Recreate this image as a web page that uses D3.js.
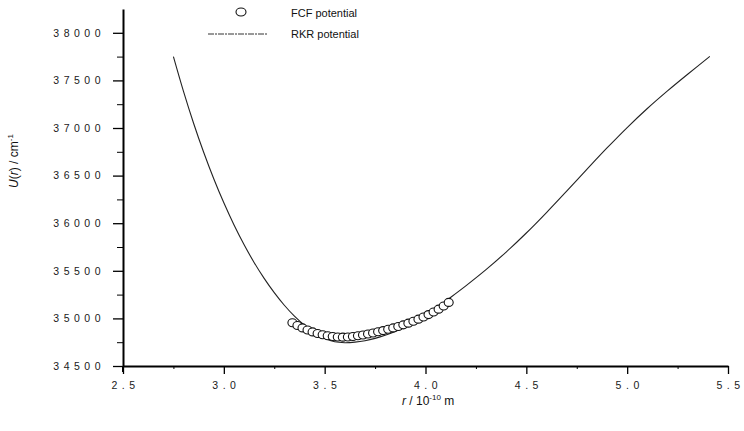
<!DOCTYPE html>
<html lang="en">
<head>
  <meta charset="UTF-8">
  <title>FCF vs RKR potential</title>
  <script src="https://d3js.org/d3.v7.min.js"></script>
  <style>
    body {
      margin: 0;
      background: #fff;
      font-family: "Liberation Sans", Arial, sans-serif;
    }
    .tick text {
      font-family: "Liberation Sans", Arial, sans-serif;
      font-size: 10.5px;
      fill: #1a1a1a;
      letter-spacing: 4.5px;
    }
    .axis-label {
      font-size: 12px;
      fill: #111;
    }
    .legend-text {
      font-size: 11px;
      fill: #111;
    }
  </style>
</head>
<body>
<div id="chart"></div>

<script>
  // RKR potential curve (r in 1e-10 m, U in cm^-1)
  const rkrR = [2.75, 2.80, 2.85, 2.90, 2.95, 3.00, 3.05, 3.10, 3.15, 3.20,
                3.25, 3.30, 3.35, 3.40, 3.45, 3.50, 3.55, 3.60, 3.65, 3.70,
                3.75, 3.80, 3.85, 3.90, 3.95, 4.00, 4.05, 4.10, 4.20, 4.30,
                4.40, 4.50, 4.60, 4.70, 4.80, 4.90, 5.00, 5.10, 5.20, 5.30, 5.41];
  const rkrU = [37750, 37385, 37050, 36745, 36467, 36214, 35984, 35776, 35588, 35420,
                35270, 35138, 35024, 34928, 34850, 34792, 34754, 34745, 34751, 34766,
                34790, 34822, 34862, 34910, 34966, 35030, 35102, 35182, 35342, 35512,
                35697, 35897, 36112, 36337, 36565, 36790, 37005, 37205, 37390, 37565, 37752];

  // FCF potential points
  const fcfR = [3.34, 3.365, 3.39, 3.415, 3.44, 3.465, 3.49, 3.515, 3.54, 3.565,
                3.59, 3.615, 3.64, 3.665, 3.69, 3.715, 3.74, 3.765, 3.79, 3.815,
                3.84, 3.865, 3.89, 3.915, 3.94, 3.965, 3.99, 4.015, 4.04, 4.065,
                4.09, 4.115];
  const fcfU = [34955, 34925, 34900, 34878, 34858, 34842, 34829, 34818, 34810, 34805,
                34803, 34805, 34810, 34817, 34826, 34836, 34847, 34859, 34872, 34886,
                34900, 34915, 34932, 34950, 34970, 34992, 35015, 35040, 35067, 35097,
                35130, 35168];

  const xTicks = [2.5, 3.0, 3.5, 4.0, 4.5, 5.0, 5.5];
  const xTickLabels = ["2.5", "3.0", "3.5", "4.0", "4.5", "5.0", "5.5"];
  const xMinor = [2.75, 3.25, 3.75, 4.25, 4.75, 5.25];
  const yTicks = [34500, 35000, 35500, 36000, 36500, 37000, 37500, 38000];
  const yMinor = [34750, 35250, 35750, 36250, 36750, 37250, 37750];

  const W = 744, H = 431;
  const plotLeft = 123, plotRight = 728, plotTop = 9, plotBottom = 366;

  const svg = d3.select("#chart")
                .append("svg")
                .attr("width", W)
                .attr("height", H);

  const x = d3.scaleLinear().domain([2.5, 5.5]).range([plotLeft, plotRight]);
  const y = d3.scaleLinear().domain([34500, 38250]).range([plotBottom, plotTop]);

  // minor ticks first
  svg.append("g")
     .attr("transform", `translate(0,${plotBottom})`)
     .call(d3.axisBottom(x).tickValues(xMinor).tickSize(3).tickFormat(""))
     .call(g => g.select(".domain").remove());
  svg.append("g")
     .attr("transform", `translate(${plotLeft},0)`)
     .call(d3.axisLeft(y).tickValues(yMinor).tickSize(6).tickFormat(""))
     .call(g => g.select(".domain").remove());

  // X axis
  const xAxis = svg.append("g")
     .attr("transform", `translate(0,${plotBottom})`)
     .call(d3.axisBottom(x).tickValues(xTicks).tickSize(8).tickSizeOuter(0)
             .tickFormat((d, i) => xTickLabels[i]));
  xAxis.select(".domain").attr("stroke-width", 2);
  xAxis.selectAll(".tick line").attr("stroke-width", 1.3);
  xAxis.selectAll(".tick text").attr("dy", "1.15em").attr("dx", "2px");

  // Y axis (a little below the x axis, as in the original)
  const yAxis = svg.append("g")
     .attr("transform", `translate(${plotLeft},0)`)
     .call(d3.axisLeft(y).tickValues(yTicks).tickSize(10).tickSizeOuter(0)
             .tickFormat(d => d));
  yAxis.select(".domain").attr("stroke-width", 2);
  yAxis.selectAll(".tick line").attr("stroke-width", 1.3);
  yAxis.selectAll(".tick text").attr("x", -18);
  yAxis.append("line")
       .attr("x1", 0).attr("x2", 0)
       .attr("y1", plotBottom).attr("y2", plotBottom + 6)
       .attr("stroke", "#000").attr("stroke-width", 2);

  // RKR curve
  const line = d3.line()
                 .x((d, i) => x(rkrR[i]))
                 .y(d => y(d))
                 .curve(d3.curveCatmullRom);

  svg.append("path")
     .datum(rkrU)
     .attr("fill", "none")
     .attr("stroke", "#222")
     .attr("stroke-width", 1.1)
     .attr("d", line);

  // FCF points
  svg.selectAll("ellipse.fcf")
     .data(fcfU)
     .enter()
     .append("ellipse")
     .attr("class", "fcf")
     .attr("cx", (d, i) => x(fcfR[i]))
     .attr("cy", d => y(d))
     .attr("rx", 4.5)
     .attr("ry", 4)
     .attr("fill", "#fff")
     .attr("stroke", "#111")
     .attr("stroke-width", 1.1);

  // Axis labels
  const xl = svg.append("text")
     .attr("class", "axis-label")
     .attr("x", 402)
     .attr("y", 405);
  xl.append("tspan").attr("font-style", "italic").text("r");
  xl.append("tspan").text(" / 10");
  xl.append("tspan").attr("dy", -5).attr("font-size", "8px").text("-10");
  xl.append("tspan").attr("dy", 5).text(" m");

  const yl = svg.append("text")
     .attr("class", "axis-label")
     .attr("transform", "translate(18,161) rotate(-90)")
     .attr("text-anchor", "middle");
  yl.append("tspan").attr("font-style", "italic").text("U");
  yl.append("tspan").text("(");
  yl.append("tspan").attr("font-style", "italic").text("r");
  yl.append("tspan").text(") / cm");
  yl.append("tspan").attr("dy", -5).attr("font-size", "8px").text("-1");

  // Legend
  const legend = svg.append("g");
  legend.append("ellipse")
        .attr("cx", 241).attr("cy", 12)
        .attr("rx", 5).attr("ry", 4)
        .attr("fill", "#fff").attr("stroke", "#111").attr("stroke-width", 1.1);
  legend.append("text")
        .attr("class", "legend-text")
        .attr("x", 291).attr("y", 17)
        .text("FCF potential");
  legend.append("line")
        .attr("x1", 208).attr("x2", 268)
        .attr("y1", 34).attr("y2", 34)
        .attr("stroke", "#333").attr("stroke-width", 1)
        .attr("stroke-dasharray", "6,1,2,1");
  legend.append("text")
        .attr("class", "legend-text")
        .attr("x", 291).attr("y", 38)
        .text("RKR potential");
</script>
</body>
</html>
